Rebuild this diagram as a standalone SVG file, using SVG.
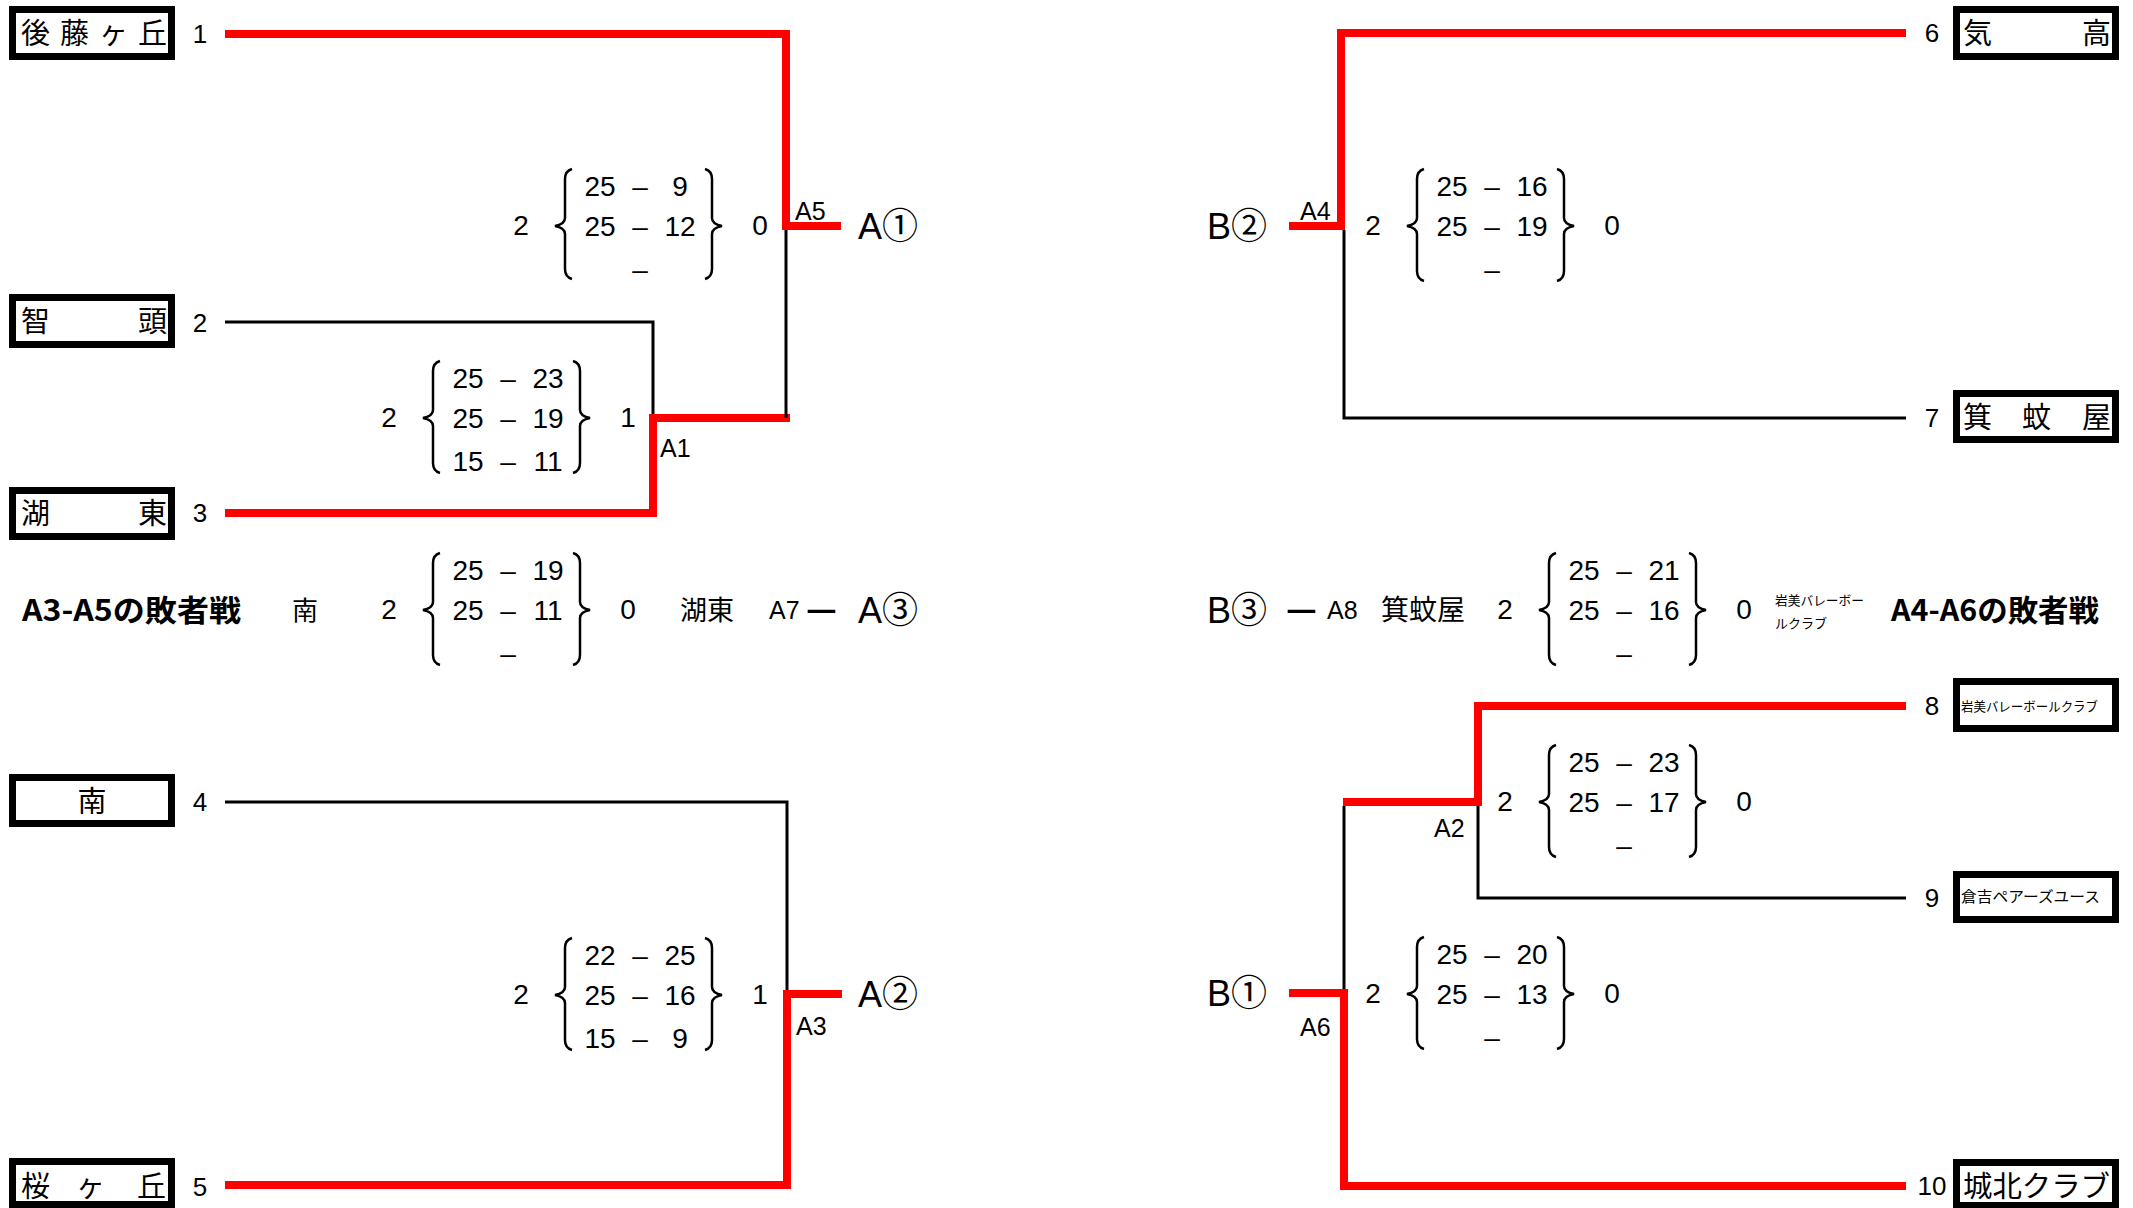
<svg xmlns="http://www.w3.org/2000/svg" width="2133" height="1208" viewBox="0 0 2133 1208">
<defs>
<style>
.bg{fill:#fff}
.box{fill:#fff;stroke:#000;stroke-width:7}
.red{fill:none;stroke:#ff0000;stroke-width:8;stroke-linejoin:miter;stroke-linecap:butt}
.blk{fill:none;stroke:#000;stroke-width:3;stroke-linecap:butt}
.br{fill:none;stroke:#000;stroke-width:2.5}
.jp{font-family:"Noto Sans CJK JP",sans-serif;fill:#000}
.name{font-family:"Noto Sans CJK JP",sans-serif;font-size:29px;fill:#000}
.sc{font-family:"Liberation Sans",sans-serif;font-size:28px;text-anchor:middle;fill:#000}
.seed{font-family:"Liberation Sans",sans-serif;font-size:26px;text-anchor:middle;fill:#000}
.lab{font-family:"Liberation Sans",sans-serif;font-size:25px;fill:#000}
.res{font-family:"Liberation Sans","Noto Sans CJK JP",sans-serif;font-size:36px;fill:#000}
.ttl{font-family:"Noto Sans CJK JP",sans-serif;font-size:30px;font-weight:bold;fill:#000}
</style>
</defs>
<rect class="bg" x="0" y="0" width="2133" height="1208"/>

<g id="connectors">
  <path class="red" d="M225,34 H786 V226 H841"/>
  <path class="blk" d="M225,322 H653 V418"/>
  <path class="red" d="M225,513 H653 V418 H790"/>
  <path class="blk" d="M786,230 V418"/>
  <path class="blk" d="M225,802 H787 V994"/>
  <path class="red" d="M225,1185 H787 V994 H842"/>
  <path class="red" d="M1906,33 H1341 V226 H1289"/>
  <path class="blk" d="M1906,418 H1344 V230"/>
  <path class="red" d="M1906,706 H1478 V802 H1343"/>
  <path class="blk" d="M1906,898 H1478 V806"/>
  <path class="blk" d="M1344,806 V993"/>
  <path class="red" d="M1906,1186 H1344 V993 H1289"/>
</g>

<g id="team1">
  <rect class="box" x="12.5" y="9.5" width="159" height="47"/>
  <text class="name" x="21 60 99 138" y="44">後藤ヶ丘</text>
  <text class="seed" x="200" y="43">1</text>
</g>
<g id="team2">
  <rect class="box" x="12.5" y="297.5" width="159" height="47"/>
  <text class="name" x="21 138" y="332">智頭</text>
  <text class="seed" x="200" y="332">2</text>
</g>
<g id="team3">
  <rect class="box" x="12.5" y="490.5" width="159" height="46"/>
  <text class="name" x="21 138" y="524">湖東</text>
  <text class="seed" x="200" y="522">3</text>
</g>
<g id="team4">
  <rect class="box" x="12.5" y="777.5" width="159" height="46"/>
  <text class="name" x="92" y="812" text-anchor="middle">南</text>
  <text class="seed" x="200" y="811">4</text>
</g>
<g id="team5">
  <rect class="box" x="12.5" y="1161.5" width="159" height="43"/>
  <text class="name" x="21 76 137" y="1197">桜ヶ丘</text>
  <text class="seed" x="200" y="1196">5</text>
</g>
<g id="team6">
  <rect class="box" x="1956.5" y="9.5" width="159" height="47"/>
  <text class="name" x="1963 2082" y="44">気高</text>
  <text class="seed" x="1932" y="42">6</text>
</g>
<g id="team7">
  <rect class="box" x="1956.5" y="393.5" width="159" height="46"/>
  <text class="name" x="1963 2022 2082" y="428">箕蚊屋</text>
  <text class="seed" x="1932" y="427">7</text>
</g>
<g id="team8">
  <rect class="box" x="1956.5" y="681.5" width="159" height="47"/>
  <text class="jp" x="1961" y="711" font-size="13" textLength="137" lengthAdjust="spacingAndGlyphs">岩美バレーボールクラブ</text>
  <text class="seed" x="1932" y="715">8</text>
</g>
<g id="team9">
  <rect class="box" x="1956.5" y="874.5" width="159" height="45"/>
  <text class="jp" x="1961" y="902" font-size="15" textLength="139" lengthAdjust="spacingAndGlyphs">倉吉ペアーズユース</text>
  <text class="seed" x="1932" y="907">9</text>
</g>
<g id="team10">
  <rect class="box" x="1956.5" y="1162.5" width="159" height="43"/>
  <text class="name" x="1963" y="1197" textLength="147" lengthAdjust="spacingAndGlyphs">城北クラブ</text>
  <text class="seed" x="1932" y="1195">10</text>
</g>

<g id="matchA5">
  <text class="lab" x="795" y="220">A5</text>
  <text class="sc" x="521" y="235">2</text>
  <path class="br" d="M572,169 Q565,171 565,179 L565,218 Q565,224 555,226 Q565,228 565,234 L565,269 Q565,277 572,279"/>
  <text class="sc" x="600" y="196">25</text><text class="sc" x="640" y="196">–</text><text class="sc" x="680" y="196">9</text>
  <text class="sc" x="600" y="236">25</text><text class="sc" x="640" y="236">–</text><text class="sc" x="680" y="236">12</text>
  <text class="sc" x="640" y="279">–</text>
  <path class="br" d="M705,169 Q712,171 712,179 L712,218 Q712,224 722,226 Q712,228 712,234 L712,269 Q712,277 705,279"/>
  <text class="sc" x="760" y="235">0</text>
</g>
<g id="resA1w">
  <text class="res" x="858" y="239">A①</text>
</g>

<g id="matchA1">
  <text class="lab" x="660" y="457">A1</text>
  <text class="sc" x="389" y="427">2</text>
  <path class="br" d="M440,361 Q433,363 433,371 L433,410 Q433,416 423,418 Q433,420 433,426 L433,463 Q433,471 440,473"/>
  <text class="sc" x="468" y="388">25</text><text class="sc" x="508" y="388">–</text><text class="sc" x="548" y="388">23</text>
  <text class="sc" x="468" y="428">25</text><text class="sc" x="508" y="428">–</text><text class="sc" x="548" y="428">19</text>
  <text class="sc" x="468" y="471">15</text><text class="sc" x="508" y="471">–</text><text class="sc" x="548" y="471">11</text>
  <path class="br" d="M573,361 Q580,363 580,371 L580,410 Q580,416 590,418 Q580,420 580,426 L580,463 Q580,471 573,473"/>
  <text class="sc" x="628" y="427">1</text>
</g>

<g id="matchA7">
  <text class="ttl" x="22" y="621" textLength="219" lengthAdjust="spacingAndGlyphs">A3-A5の敗者戦</text>
  <text class="jp" x="305" y="620" font-size="26" text-anchor="middle">南</text>
  <text class="sc" x="389" y="619">2</text>
  <path class="br" d="M440,553 Q433,555 433,563 L433,602 Q433,608 423,610 Q433,612 433,618 L433,655 Q433,663 440,665"/>
  <text class="sc" x="468" y="580">25</text><text class="sc" x="508" y="580">–</text><text class="sc" x="548" y="580">19</text>
  <text class="sc" x="468" y="620">25</text><text class="sc" x="508" y="620">–</text><text class="sc" x="548" y="620">11</text>
  <text class="sc" x="508" y="663">–</text>
  <path class="br" d="M573,553 Q580,555 580,563 L580,602 Q580,608 590,610 Q580,612 580,618 L580,655 Q580,663 573,665"/>
  <text class="sc" x="628" y="619">0</text>
  <text class="jp" x="680" y="620" font-size="27">湖東</text>
  <text class="lab" x="769" y="619">A7</text>
  <text class="jp" x="806" y="621" font-size="34" font-weight="bold">—</text>
  <text class="res" x="858" y="623">A③</text>
</g>

<g id="matchA3">
  <text class="lab" x="796" y="1035">A3</text>
  <text class="sc" x="521" y="1004">2</text>
  <path class="br" d="M572,938 Q565,940 565,948 L565,987 Q565,993 555,995 Q565,997 565,1003 L565,1040 Q565,1048 572,1050"/>
  <text class="sc" x="600" y="965">22</text><text class="sc" x="640" y="965">–</text><text class="sc" x="680" y="965">25</text>
  <text class="sc" x="600" y="1005">25</text><text class="sc" x="640" y="1005">–</text><text class="sc" x="680" y="1005">16</text>
  <text class="sc" x="600" y="1048">15</text><text class="sc" x="640" y="1048">–</text><text class="sc" x="680" y="1048">9</text>
  <path class="br" d="M705,938 Q712,940 712,948 L712,987 Q712,993 722,995 Q712,997 712,1003 L712,1040 Q712,1048 705,1050"/>
  <text class="sc" x="760" y="1004">1</text>
  <text class="res" x="858" y="1007">A②</text>
</g>

<g id="matchA4">
  <text class="res" x="1207" y="239">B②</text>
  <text class="lab" x="1300" y="220">A4</text>
  <text class="sc" x="1373" y="235">2</text>
  <path class="br" d="M1424,169 Q1417,171 1417,179 L1417,218 Q1417,224 1407,226 Q1417,228 1417,234 L1417,271 Q1417,279 1424,281"/>
  <text class="sc" x="1452" y="196">25</text><text class="sc" x="1492" y="196">–</text><text class="sc" x="1532" y="196">16</text>
  <text class="sc" x="1452" y="236">25</text><text class="sc" x="1492" y="236">–</text><text class="sc" x="1532" y="236">19</text>
  <text class="sc" x="1492" y="279">–</text>
  <path class="br" d="M1557,169 Q1564,171 1564,179 L1564,218 Q1564,224 1574,226 Q1564,228 1564,234 L1564,271 Q1564,279 1557,281"/>
  <text class="sc" x="1612" y="235">0</text>
</g>

<g id="matchA8">
  <text class="res" x="1207" y="623">B③</text>
  <text class="jp" x="1286" y="621" font-size="34" font-weight="bold">—</text>
  <text class="lab" x="1327" y="619">A8</text>
  <text class="jp" x="1381" y="620" font-size="28">箕蚊屋</text>
  <text class="sc" x="1505" y="619">2</text>
  <path class="br" d="M1556,553 Q1549,555 1549,563 L1549,602 Q1549,608 1539,610 Q1549,612 1549,618 L1549,655 Q1549,663 1556,665"/>
  <text class="sc" x="1584" y="580">25</text><text class="sc" x="1624" y="580">–</text><text class="sc" x="1664" y="580">21</text>
  <text class="sc" x="1584" y="620">25</text><text class="sc" x="1624" y="620">–</text><text class="sc" x="1664" y="620">16</text>
  <text class="sc" x="1624" y="663">–</text>
  <path class="br" d="M1689,553 Q1696,555 1696,563 L1696,602 Q1696,608 1706,610 Q1696,612 1696,618 L1696,655 Q1696,663 1689,665"/>
  <text class="sc" x="1744" y="619">0</text>
  <text class="jp" x="1775" y="605" font-size="13" textLength="89" lengthAdjust="spacingAndGlyphs">岩美バレーボー</text>
  <text class="jp" x="1775" y="628" font-size="13">ルクラブ</text>
  <text class="ttl" x="1891" y="621" textLength="208" lengthAdjust="spacingAndGlyphs">A4-A6の敗者戦</text>
</g>

<g id="matchA2">
  <text class="lab" x="1434" y="837">A2</text>
  <text class="sc" x="1505" y="811">2</text>
  <path class="br" d="M1556,745 Q1549,747 1549,755 L1549,794 Q1549,800 1539,802 Q1549,804 1549,810 L1549,847 Q1549,855 1556,857"/>
  <text class="sc" x="1584" y="772">25</text><text class="sc" x="1624" y="772">–</text><text class="sc" x="1664" y="772">23</text>
  <text class="sc" x="1584" y="812">25</text><text class="sc" x="1624" y="812">–</text><text class="sc" x="1664" y="812">17</text>
  <text class="sc" x="1624" y="855">–</text>
  <path class="br" d="M1689,745 Q1696,747 1696,755 L1696,794 Q1696,800 1706,802 Q1696,804 1696,810 L1696,847 Q1696,855 1689,857"/>
  <text class="sc" x="1744" y="811">0</text>
</g>

<g id="matchA6">
  <text class="res" x="1207" y="1006">B①</text>
  <text class="lab" x="1300" y="1036">A6</text>
  <text class="sc" x="1373" y="1003">2</text>
  <path class="br" d="M1424,937 Q1417,939 1417,947 L1417,986 Q1417,992 1407,994 Q1417,996 1417,1002 L1417,1039 Q1417,1047 1424,1049"/>
  <text class="sc" x="1452" y="964">25</text><text class="sc" x="1492" y="964">–</text><text class="sc" x="1532" y="964">20</text>
  <text class="sc" x="1452" y="1004">25</text><text class="sc" x="1492" y="1004">–</text><text class="sc" x="1532" y="1004">13</text>
  <text class="sc" x="1492" y="1047">–</text>
  <path class="br" d="M1557,937 Q1564,939 1564,947 L1564,986 Q1564,992 1574,994 Q1564,996 1564,1002 L1564,1039 Q1564,1047 1557,1049"/>
  <text class="sc" x="1612" y="1003">0</text>
</g>
</svg>
